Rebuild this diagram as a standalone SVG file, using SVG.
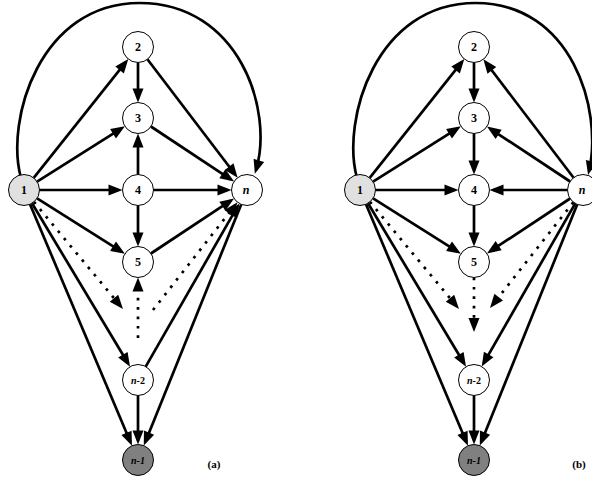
<svg xmlns="http://www.w3.org/2000/svg" width="592" height="479" viewBox="0 0 592 479">
<style>
.e{fill:none;stroke:#000;stroke-width:2.7;marker-end:url(#ah)}
.p{fill:none;stroke:#000;stroke-width:2.7}
.d{stroke-dasharray:2.7 6.7}
.nd{fill:#fff;stroke:#000;stroke-width:1}
.g1{fill:#e0e0e0}
.g2{fill:#808080}
text{font-family:"Liberation Serif","Times New Roman",serif;font-weight:bold;text-anchor:middle;fill:#000}
.t{font-size:12px}
.s{font-size:10px}
.i{font-style:italic}
.lab{font-size:11px}
</style>
<defs>
<marker id="ah" markerUnits="userSpaceOnUse" markerWidth="14" markerHeight="11" refX="10" refY="5.5" orient="auto" overflow="visible">
<path d="M0,0 L14,5.5 L0,11 z" fill="#000"/>
</marker>
</defs>
<g id="connectors">
<!-- (a) -->
<path class="e" d="M21,178 C5,120 40,3 139.5,3 C239,3 274,110 256,170"/>
<line class="e" x1="33.7" y1="177.9" x2="125.8" y2="62.2"/>
<line class="e" x1="37.1" y1="181.7" x2="121.5" y2="128.4"/>
<line class="e" x1="39.5" y1="190" x2="118.5" y2="190"/>
<line class="e" x1="37.1" y1="198.3" x2="121.5" y2="251.6"/>
<line class="e d" x1="33.9" y1="201.9" x2="120.4" y2="305.9"/>
<line class="e" x1="32" y1="203.3" x2="128" y2="363.3"/>
<line class="e" x1="30" y1="204.3" x2="130.4" y2="442"/>
<line class="e" x1="138" y1="62.5" x2="138" y2="98.5"/>
<line class="e" x1="147.4" y1="59.3" x2="235.2" y2="174.5"/>
<line class="e" x1="150.9" y1="126.5" x2="230.7" y2="179.3"/>
<line class="e" x1="138" y1="174.5" x2="138" y2="137.5"/>
<line class="e" x1="153.5" y1="190" x2="227.5" y2="190"/>
<line class="e" x1="138" y1="205.5" x2="138" y2="242.5"/>
<line class="e" x1="150.9" y1="253.5" x2="230.7" y2="200.7"/>
<line class="e d" x1="153" y1="310" x2="235" y2="205.4"/>
<line class="e d" x1="138" y1="338" x2="138" y2="281.5"/>
<line class="e" x1="145.7" y1="366.6" x2="237.3" y2="206.9"/>
<line class="e" x1="138" y1="395.5" x2="138" y2="440.5"/>
<line class="e" x1="241.2" y1="204.4" x2="145.3" y2="441.9"/>
<!-- (b) -->
<path class="e" d="M357,178 C341,120 376,3 475.5,3 C572,3 603,110 589,171"/>
<line class="e" x1="369.7" y1="177.9" x2="461.8" y2="62.2"/>
<line class="e" x1="373.1" y1="181.7" x2="457.5" y2="128.4"/>
<line class="e" x1="375.5" y1="190" x2="454.5" y2="190"/>
<line class="e" x1="373.1" y1="198.3" x2="457.5" y2="251.6"/>
<line class="e d" x1="369.9" y1="201.9" x2="456.4" y2="305.9"/>
<line class="e" x1="368" y1="203.3" x2="464" y2="363.3"/>
<line class="e" x1="366" y1="204.3" x2="466.4" y2="442"/>
<line class="e" x1="474" y1="62.5" x2="474" y2="98.5"/>
<line class="e" x1="474" y1="133.5" x2="474" y2="170.5"/>
<line class="e" x1="474" y1="205.5" x2="474" y2="242.5"/>
<line class="e d" x1="474" y1="277.5" x2="474" y2="328"/>
<line class="e" x1="573.6" y1="177.7" x2="485.8" y2="62.5"/>
<line class="e" x1="570.1" y1="181.5" x2="490.3" y2="128.8"/>
<line class="e" x1="567.5" y1="190" x2="493.5" y2="190"/>
<line class="e" x1="570.1" y1="198.5" x2="490.3" y2="251.2"/>
<line class="e d" x1="573.4" y1="202.2" x2="492.5" y2="304.9"/>
<line class="e" x1="575.3" y1="203.4" x2="483.7" y2="363.1"/>
<line class="e" x1="577.2" y1="204.4" x2="481.3" y2="441.9"/>
<line class="e" x1="474" y1="395.5" x2="474" y2="440.5"/>
</g>
<!-- nodes (a) -->
<g id="a1"><circle class="nd g1" cx="24" cy="190" r="15.5"/><text class="t" x="24" y="194">1</text></g>
<g id="a2"><circle class="nd" cx="138" cy="47" r="15.5"/><text class="t" x="138" y="51">2</text></g>
<g id="a3"><circle class="nd" cx="138" cy="118" r="15.5"/><text class="t" x="138" y="122">3</text></g>
<g id="a4"><circle class="nd" cx="138" cy="190" r="15.5"/><text class="t" x="138" y="194">4</text></g>
<g id="a5"><circle class="nd" cx="138" cy="262" r="15.5"/><text class="t" x="138" y="266">5</text></g>
<g id="an2"><circle class="nd" cx="138" cy="380" r="15.5"/><text class="s" x="138" y="384"><tspan class="i">n</tspan>-2</text></g>
<g id="an1"><circle class="nd g2" cx="138" cy="460" r="15.5"/><text class="s i" x="138" y="464">n-1</text></g>
<g id="an"><circle class="nd" cx="247" cy="190" r="15.5"/><text class="t i" x="246" y="194">n</text></g>
<text class="lab" x="214" y="468">(a)</text>
<!-- nodes (b) -->
<g id="b1"><circle class="nd g1" cx="360" cy="190" r="15.5"/><text class="t" x="360" y="194">1</text></g>
<g id="b2"><circle class="nd" cx="474" cy="47" r="15.5"/><text class="t" x="474" y="51">2</text></g>
<g id="b3"><circle class="nd" cx="474" cy="118" r="15.5"/><text class="t" x="474" y="122">3</text></g>
<g id="b4"><circle class="nd" cx="474" cy="190" r="15.5"/><text class="t" x="474" y="194">4</text></g>
<g id="b5"><circle class="nd" cx="474" cy="262" r="15.5"/><text class="t" x="474" y="266">5</text></g>
<g id="bn2"><circle class="nd" cx="474" cy="380" r="15.5"/><text class="s" x="474" y="384"><tspan class="i">n</tspan>-2</text></g>
<g id="bn1"><circle class="nd g2" cx="474" cy="460" r="15.5"/><text class="s i" x="474" y="464">n-1</text></g>
<g id="bn"><circle class="nd" cx="583" cy="190" r="15.5"/><text class="t i" x="582" y="194">n</text></g>
<text class="lab" x="579" y="468">(b)</text>
</svg>
